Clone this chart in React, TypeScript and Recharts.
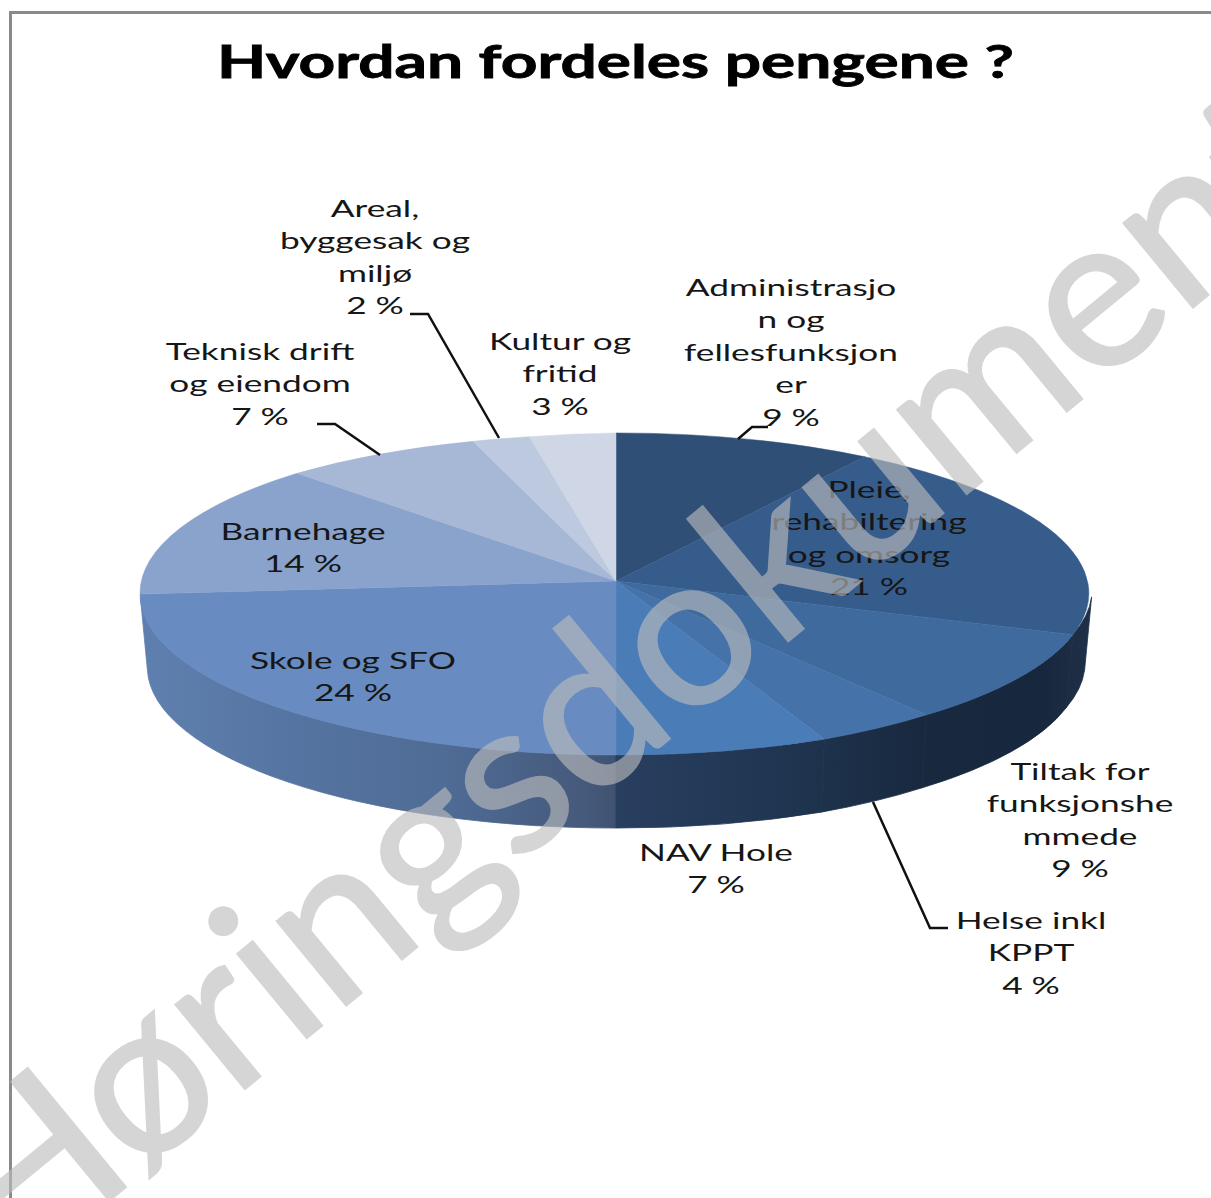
import { Pie, PieChart } from "recharts";

const categories = [
  "Administrasjon og fellesfunksjoner",
  "Pleie, rehabiltering og omsorg",
  "Tiltak for funksjonshemmede",
  "Helse inkl KPPT",
  "NAV Hole",
  "Skole og SFO",
  "Barnehage",
  "Teknisk drift og eiendom",
  "Areal, byggesak og miljø",
  "Kultur og fritid",
];
const shares = [9, 21, 9, 4, 7, 24, 14, 7, 2, 3];
const sliceColors = ["#2f4f76", "#365c8c", "#3f6a9e", "#4572a8", "#4a7cb7", "#688cc1", "#8aa3cc", "#a7b7d6", "#bcc9de", "#cfd6e5"];

// wrapped the way the original wraps them, including the broken words
const labelLines = [
  ["Administrasjo", "n og", "fellesfunksjon", "er", "9 %"],
  ["Pleie,", "rehabiltering", "og omsorg", "21 %"],
  ["Tiltak for", "funksjonshe", "mmede", "9 %"],
  ["Helse inkl", "KPPT", "4 %"],
  ["NAV Hole", "7 %"],
  ["Skole og SFO", "24 %"],
  ["Barnehage", "14 %"],
  ["Teknisk drift", "og eiendom", "7 %"],
  ["Areal,", "byggesak og", "miljø", "2 %"],
  ["Kultur og", "fritid", "3 %"],
];
const labelCenterX = [791, 869, 1080, 1031, 716, 353, 303, 260, 375, 560];
const labelFirstBaseline = [296, 498, 780, 929, 861, 669, 540, 360, 217, 350];
const leaderLines: Record<number, string> = {
  0: "738,439 752,427 768,427",
  3: "873,802 930,928 948,928",
  7: "317,424 335,424 380,455",
  8: "410,314 428,314 499,438",
};

const data = categories.map((name, i) => ({ name, value: shares[i], fill: sliceColors[i] }));

const PIE_CX = 616;
const APEX_Y = 581; // slices meet here, above the centre of the drawn ellipse
const RX = 476;
const RY = 161;
const BOTTOM_RX = 469;
const WALL_DEPTH = 73;
// perspective of the tilted disc, fitted to the rim points in the picture
const PERSP_X = 0.03;
const PERSP_Y = 0.0807;
const DISC_RX = 476;
const DISC_RY = 160;
const RIM_LEFT = -175.4;
const RIM_RIGHT = -4.6;

const LABEL_FONT = 'Lato, "Open Sans", sans-serif';

const wallStops = [
  ["0%", "#5f80af"],
  ["16%", "#5674a1"],
  ["32%", "#4f6c96"],
  ["47%", "#45597a"],
  ["49.9%", "#3f5272"],
  ["50%", "#283f60"],
  ["69%", "#1f344f"],
  ["82%", "#18293f"],
  ["95%", "#17273e"],
  ["100%", "#1f3148"],
];

const rad = (a: number) => (a * Math.PI) / 180;

const Slice3D = (props: any) => {
  const { cx, cy, startAngle, endAngle, fill } = props;
  const rim = (a: number) => {
    const u = Math.cos(rad(a));
    const v = -Math.sin(rad(a));
    return [
      cx + (DISC_RX * u) / (1 - PERSP_X * v),
      cy + (DISC_RY * v) / (1 - PERSP_Y * v) + 3 * Math.sqrt(Math.abs(u)),
    ];
  };
  const floor = (a: number) => {
    const [x, y] = rim(a);
    return [cx + ((x - cx) * BOTTOM_RX) / RX, y + WALL_DEPTH];
  };
  const [sx, sy] = rim(startAngle);
  const [ex, ey] = rim(endAngle);
  const top = `M${cx},${cy} L${sx},${sy} A${RX},${RY} 0 0 1 ${ex},${ey} Z`;

  // only the front half of the rim is visible
  const hi = Math.min(startAngle, RIM_RIGHT);
  const lo = Math.max(endAngle, RIM_LEFT);
  let wall = null;
  if (hi > lo) {
    const [ax, ay] = rim(hi);
    const [bx, by] = rim(lo);
    const [cx2, cy2] = floor(lo);
    const [dx, dy] = floor(hi);
    wall = (
      <path
        d={`M${ax},${ay} A${RX},${RY} 0 0 1 ${bx},${by} L${cx2},${cy2} A${BOTTOM_RX},${RY} 0 0 0 ${dx},${dy} Z`}
        fill="url(#sideWall)"
        stroke="url(#sideWall)"
        strokeWidth={0.8}
      />
    );
  }
  return (
    <g>
      {wall}
      <path d={top} fill={fill} stroke={fill} strokeWidth={0.5} />
    </g>
  );
};

const renderLabel = ({ index }: any) => (
  <g>
    {leaderLines[index] && <polyline points={leaderLines[index]} fill="none" stroke="#111" strokeWidth={2.5} />}
    {labelLines[index].map((line, i) => (
      <text
        key={i}
        transform={`translate(${labelCenterX[index]},${labelFirstBaseline[index] + i * 32.4}) scale(1.47,1)`}
        textAnchor="middle"
        fontFamily={LABEL_FONT}
        fontSize={24}
        fill="#161616"
      >
        {line}
      </text>
    ))}
  </g>
);

export default function App() {
  return (
    <div style={{ position: "absolute", left: 0, top: 0, width: 1211, height: 1198, overflow: "hidden", background: "#fff" }}>
      <div
        style={{
          position: "absolute",
          left: 9,
          top: 11,
          width: 1400,
          height: 1400,
          border: "3px solid #8a8a8a",
        }}
      />
      <div style={{ position: "absolute", left: 0, top: 0 }}>
        <PieChart width={1211} height={1198} margin={{ top: 0, right: 0, bottom: 0, left: 0 }}>
          <defs>
            <linearGradient id="sideWall" gradientUnits="userSpaceOnUse" x1={140} x2={1092} y1={0} y2={0}>
              {wallStops.map(([offset, color]) => (
                <stop key={offset} offset={offset} stopColor={color} />
              ))}
            </linearGradient>
          </defs>
          <Pie
            data={data}
            dataKey="value"
            nameKey="name"
            cx={PIE_CX}
            cy={APEX_Y}
            outerRadius={RX}
            startAngle={90}
            endAngle={-270}
            stroke="none"
            shape={Slice3D}
            label={renderLabel}
            labelLine={false}
            isAnimationActive={false}
          />
        </PieChart>
      </div>
      <svg width={1211} height={1198} style={{ position: "absolute", left: 0, top: 0, pointerEvents: "none" }}>
        <text
          x={217}
          y={78}
          textLength={797}
          lengthAdjust="spacingAndGlyphs"
          fontFamily={LABEL_FONT}
          fontWeight="bold"
          fontSize={45}
          stroke="#000"
          strokeWidth={0.8}
          fill="#000"
        >
          Hvordan fordeles pengene ?
        </text>
        <text
          transform="translate(13,1280) rotate(-39.5) scale(1.01,1)"
          fontFamily={LABEL_FONT}
          fontSize={215}
          fill="rgb(189,189,189)"
          stroke="rgb(189,189,189)"
          strokeWidth={2.5}
          opacity={0.625}
        >
          Høringsdokument
        </text>
      </svg>
    </div>
  );
}
